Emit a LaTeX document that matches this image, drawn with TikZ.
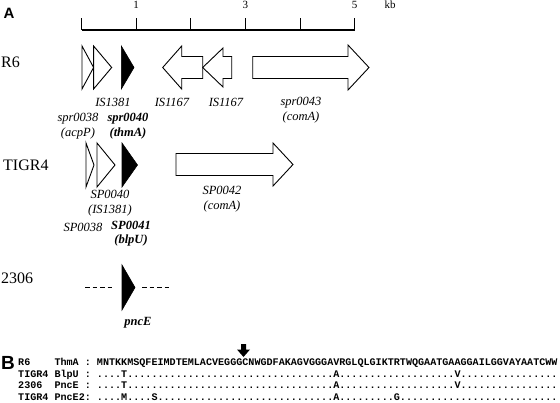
\documentclass[tikz,border=0pt]{standalone}
\usepackage{fontspec}
\setmainfont{Liberation Serif}
\newfontfamily\panelfont{Liberation Sans}
\newfontfamily\seqfont{Liberation Mono}
\usepackage{tikz}

\begin{document}
\begin{tikzpicture}[x=1pt, y=-1pt,
    gene/.style={draw=black, fill=white, line width=0.9pt, line join=miter},
    hit/.style={draw=black, fill=black, line width=0.6pt},
    strain/.style={font=\fontsize{16}{18}\selectfont, anchor=west, inner sep=0pt},
    num/.style={font=\fontsize{11}{13}\selectfont, inner sep=0pt},
    lab/.style={font=\itshape\fontsize{12.5}{15}\selectfont, align=center, inner sep=0pt},
    blab/.style={lab, font=\bfseries\itshape\fontsize{12.5}{14}\selectfont},
    seq/.style={font=\seqfont\bfseries\frenchspacing\fontsize{10.1}{12}\selectfont,
        anchor=base west, inner sep=0pt},
    panel/.style={font=\panelfont\bfseries\fontsize{15}{18}\selectfont, inner sep=0pt}]
    \useasboundingbox (0,0) rectangle (560,402);

    % panel A: scale bar
    \node[panel] (pa) at (9,13) {A};
    \draw[line width=1.1pt] (81.6,30) -- (354.7,30);
    \foreach \k in {0,...,5}{
        \draw[line width=1.1pt] ({81.6+54.62*\k},18) -- ({81.6+54.62*\k},30);
    }
    \foreach \k in {1,3,5}{
        \node[num] (kb\k) at ({81.6+54.62*\k},5) {\k};
    }
    \node[num] (kbunit) at (390,5) {kb};

    % R6
    \node[strain] (r6) at (1,62) {R6};
    \draw[gene] (82,46) -- (93.6,67.5) -- (82,89) -- cycle;
    \draw[gene] (93.6,46) -- (111.7,67.5) -- (93.6,89) -- cycle;
    \draw[hit] (121.3,46) -- (134,67.5) -- (121.3,89) -- cycle;
    \draw[gene] (162.7,67.5) -- (181.7,46) -- (181.7,56.5) -- (202.7,56.5)
        -- (202.7,78.5) -- (181.7,78.5) -- (181.7,89) -- cycle;
    \draw[gene] (202.7,67.5) -- (223,48) -- (223,56.5) -- (231.7,56.5)
        -- (231.7,78.5) -- (223,78.5) -- (223,87) -- cycle;
    \draw[gene] (252.7,56.5) -- (348,56.5) -- (348,45) -- (369,67.5)
        -- (348,90) -- (348,78.5) -- (252.7,78.5) -- cycle;
    \node[lab] (is1381) at (113,102) {IS1381};
    \node[lab] (is1167a) at (172,102) {IS1167};
    \node[lab] (is1167b) at (226,102) {IS1167};
    \node[lab] (spr43) at (301,110) {spr0043\\(comA)};
    \node[lab] (spr38) at (78,126) {spr0038\\(acpP)};
    \node[blab, font=\bfseries\itshape\fontsize{12.5}{15}\selectfont] (spr40) at (128,126) {spr0040\\(thmA)};

    % TIGR4
    \node[strain] (tigr4) at (3,165) {TIGR4};
    \draw[gene] (86,143) -- (94,165) -- (86,187) -- cycle;
    \draw[gene] (97,143) -- (115,165) -- (97,187) -- cycle;
    \draw[hit] (122,143) -- (137.5,165) -- (122,187) -- cycle;
    \draw[gene] (176,153.5) -- (273,153.5) -- (273,143) -- (293,164.5)
        -- (273,186) -- (273,175.5) -- (176,175.5) -- cycle;
    \node[lab] (sp40) at (110,203) {SP0040\\(IS1381)};
    \node[lab] (sp42) at (222,199.5) {SP0042\\(comA)};
    \node[lab] (sp38) at (83,227) {SP0038};
    \node[blab] (sp41) at (131,233.5) {SP0041\\(blpU)};

    % 2306
    \node[strain] (s2306) at (1,278) {2306};
    \draw[line width=0.9pt, dash pattern=on 4.5pt off 3pt] (85,287.5) -- (113,287.5);
    \draw[line width=0.9pt, dash pattern=on 4.5pt off 3pt] (142,287.5) -- (172,287.5);
    \draw[hit] (122,265) -- (135,287.5) -- (122,310) -- cycle;
    \node[blab] (pnce) at (138,323) {pncE};

    % panel B: alignment
    \node[panel, font=\panelfont\bfseries\fontsize{19}{22}\selectfont] (pb) at (8,363) {B};
    \fill (241,344) -- (246,344) -- (246,349.5) -- (250,349.5) -- (243.5,357)
        -- (237,349.5) -- (241,349.5) -- cycle;
    \node[seq] (thma) at (18,365.5)
        {R6~~~~ThmA : MNTKKMSQFEIMDTEMLACVEGGGCNWGDFAKAGVGGGAVRGLQLGIKTRTWQGAATGAAGGAILGGVAYAATCWW};
    \node[seq] (blpu) at (18,377)
        {TIGR4 BlpU : ....T..................................A...................V................};
    \node[seq] (pnce1) at (18,388.5)
        {2306~~PncE : ....T..................................A...................V................};
    \node[seq] (pnce2) at (18,400)
        {TIGR4 PncE2: ....M....S.............................A.........G..........................};
\end{tikzpicture}
\end{document}
